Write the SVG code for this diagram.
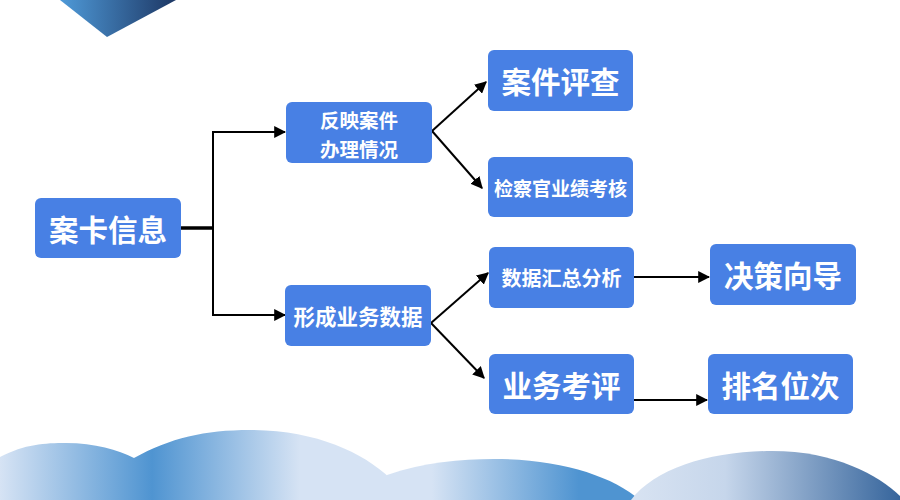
<svg xmlns="http://www.w3.org/2000/svg" width="900" height="500" viewBox="0 0 900 500">
<defs>
<linearGradient id="gTop" x1="0" y1="0" x2="1" y2="0">
<stop offset="0" stop-color="#4f9ad8"/><stop offset="1" stop-color="#1d3764"/>
</linearGradient>
<linearGradient id="gA" gradientUnits="userSpaceOnUse" x1="0" y1="0" x2="400" y2="0">
<stop offset="0" stop-color="#d6e3f4"/><stop offset="0.38" stop-color="#4f94d1"/><stop offset="0.75" stop-color="#d6e3f4"/><stop offset="1" stop-color="#d6e3f4"/>
</linearGradient>
<linearGradient id="gB" gradientUnits="userSpaceOnUse" x1="395" y1="0" x2="640" y2="0">
<stop offset="0" stop-color="#d6e3f4"/><stop offset="0.15" stop-color="#d6e3f4"/><stop offset="0.75" stop-color="#4f94d1"/><stop offset="1" stop-color="#4f94d1"/>
</linearGradient>
<linearGradient id="gC" gradientUnits="userSpaceOnUse" x1="631" y1="0" x2="900" y2="0">
<stop offset="0" stop-color="#d8e3f2"/><stop offset="0.35" stop-color="#c6d6eb"/><stop offset="1" stop-color="#36659c"/>
</linearGradient>
<marker id="arr" viewBox="0 0 10 10" refX="9" refY="5" markerWidth="6" markerHeight="6" orient="auto" markerUnits="strokeWidth">
<path d="M0,0 L10,5 L0,10 Z" fill="#000"/>
</marker>
<style>
.box{fill:#4880e4}
.t{fill:#fff;font-family:"Noto Sans CJK SC","Noto Sans",sans-serif;font-weight:700;text-anchor:middle;dominant-baseline:central}
.c{fill:none;stroke:#000;stroke-width:2}
</style>
</defs>
<g id="decor">
<path d="M60,0 L176,0 L107,37 Z" fill="url(#gTop)"/>
<path d="M0,500 L0,457 C25,444 45,443 66,443 C95,443 118,450 134,458 C170,438 205,430 250,430 C315,430 362,452 390,478 L410,500 Z" fill="url(#gA)"/>
<path d="M378,500 L387,475 C425,462 460,459 494,459 C560,459 612,476 640,500 Z" fill="url(#gB)"/>
<path d="M631,500 C655,468 712,451 772,451 C835,451 878,475 900,496 L900,500 Z" fill="url(#gC)"/>
</g>
<g id="connectors">
<path d="M181,228 L213,228" fill="none" stroke="#000" stroke-width="3.5"/>
<path class="c" d="M213,228 L213,132 L285,132" marker-end="url(#arr)"/>
<path class="c" d="M213,228 L213,315 L285,315" marker-end="url(#arr)"/>
<path class="c" d="M432,131 L486,82" marker-end="url(#arr)"/>
<path class="c" d="M432,131 L482,188" marker-end="url(#arr)"/>
<path class="c" d="M431,323 L488,273" marker-end="url(#arr)"/>
<path class="c" d="M431,323 L484,378" marker-end="url(#arr)"/>
<path class="c" d="M634,277 L709,277" marker-end="url(#arr)"/>
<path class="c" d="M634,400 L707,400" marker-end="url(#arr)"/>
</g>
<g id="n1"><rect class="box" x="35" y="198" width="146" height="60" rx="6"/><text class="t" x="108" y="228" font-size="29.5">案卡信息</text></g>
<g id="n2"><rect class="box" x="286" y="102" width="146" height="61" rx="6"/><text class="t" x="359" y="119" font-size="19.5">反映案件</text><text class="t" x="359" y="148" font-size="19.5">办理情况</text></g>
<g id="n3"><rect class="box" x="285" y="285" width="146" height="61" rx="6"/><text class="t" x="358" y="315" font-size="21.5">形成业务数据</text></g>
<g id="n4"><rect class="box" x="488" y="50" width="145" height="61" rx="6"/><text class="t" x="560.5" y="80" font-size="29.5">案件评查</text></g>
<g id="n5"><rect class="box" x="488" y="157" width="145" height="60" rx="6"/><text class="t" x="560.5" y="187" font-size="19">检察官业绩考核</text></g>
<g id="n6"><rect class="box" x="489" y="247" width="145" height="61" rx="6"/><text class="t" x="561.5" y="277" font-size="20">数据汇总分析</text></g>
<g id="n7"><rect class="box" x="489" y="354" width="145" height="60" rx="6"/><text class="t" x="561.5" y="384" font-size="29.5">业务考评</text></g>
<g id="n8"><rect class="box" x="710" y="244" width="146" height="61" rx="6"/><text class="t" x="783" y="274" font-size="29.5">决策向导</text></g>
<g id="n9"><rect class="box" x="708" y="354" width="145" height="60" rx="6"/><text class="t" x="780.5" y="384" font-size="29.5">排名位次</text></g>
</svg>
